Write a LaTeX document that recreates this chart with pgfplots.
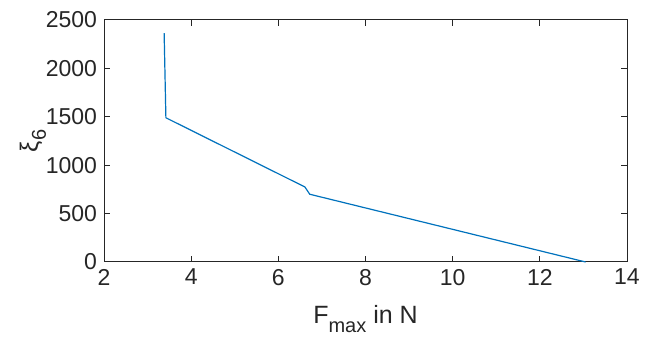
\documentclass[border=0pt]{standalone}
\usepackage{fontspec}
\setmainfont{Liberation Sans}
\usepackage{pgfplots}
\pgfplotsset{compat=1.18}
\definecolor{mblue}{RGB}{0,114,189}
\definecolor{axgray}{RGB}{38,38,38}

\begin{document}
\begin{tikzpicture}
\useasboundingbox (0,0) rectangle (327pt,176.5pt);
\begin{axis}[
 at={(52pt,45.5pt)},anchor=south west,
 scale only axis,width=261.5pt,height=121pt,
 xmin=2,xmax=14,ymin=0,ymax=2500,
 xtick={2,4,...,14},ytick={0,500,...,2500},
 tick align=inside,major tick length=3pt,
 axis line style={axgray,line width=0.5pt},
 every tick/.style={axgray,line width=0.5pt},
 tick label style={font=\fontsize{11.5}{13}\selectfont,text=axgray},
 label style={font=\fontsize{12.5}{14}\selectfont,text=axgray},
 /pgf/number format/assume math mode=true,
 /pgf/number format/set thousands separator={},
 xlabel={F\raisebox{-0.7ex}{\fontsize{10}{10}\selectfont max} in N},
 ylabel={ξ\raisebox{-0.6ex}{\fontsize{10}{10}\selectfont 6}},
 xlabel style={yshift=-3pt},
 ylabel style={yshift=-7pt},
 clip=false]
 \addplot[mblue,line width=0.6pt] coordinates {
 (3.38,2365) (3.42,1490) (6.61,775) (6.72,700) (13.05,0)};
\end{axis}
\end{tikzpicture}
\end{document}
